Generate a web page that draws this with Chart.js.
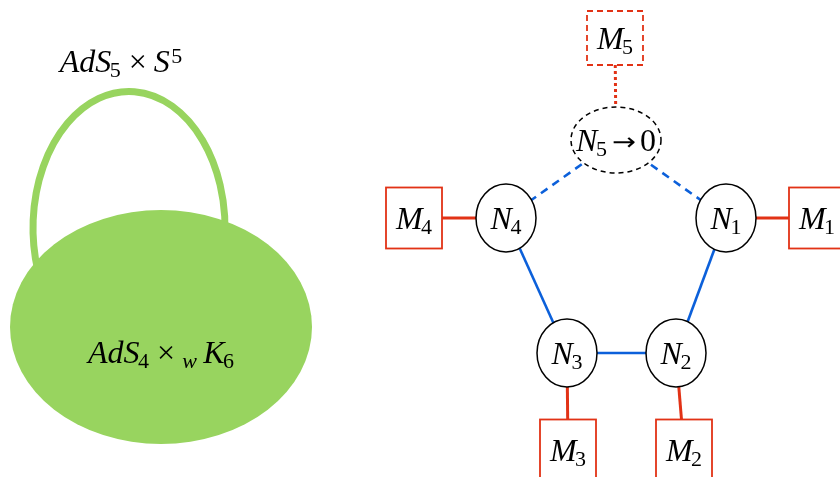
<!DOCTYPE html>
<html>
<head>
<meta charset="utf-8">
<script src="https://cdn.jsdelivr.net/npm/chart.js@4.4.1/dist/chart.umd.min.js"></script>
<style>
  html, body { margin: 0; padding: 0; background: #fff; }
  #wrap { width: 840px; height: 477px; }
</style>
</head>
<body>
<div id="wrap"><canvas id="diagrama" width="840" height="477"></canvas></div>
<script>
// nodos gauge (circulos) -- coordenadas en unidades del eje
const nodeNames = ['N_1', 'N_2', 'N_3', 'N_4', 'N_5 → 0']
const nodeX = [726, 676, 567, 506, 616]
const nodeY = [218, 353, 353, 218, 140]

// nodos de sabor (cajas)
const flavorNames = ['M_1', 'M_2', 'M_3', 'M_4', 'M_5']
const flavorX = [817, 684, 568, 414, 615]
const flavorY = [218, 450, 450, 218, 38]

// aristas entre nodos gauge: [desde, hasta]
const gaugeEdges = [[3, 2], [2, 1], [1, 0], [0, 4], [4, 3]]
const gaugeDashed = [false, false, false, true, true]

// geometria del lado izquierdo
const blobLabel = 'AdS_4 ×_w K_6'
const loopLabel = 'AdS_5 × S^5'
const blobCenter = [161, 327]
const blobRadius = [151, 117]
const loopCenter = [129, 228]
const loopRadius = [96, 136.5]
const blobLabelPos = [161, 363]
const loopLabelPos = [121, 72]

const BLUE = 'rgb(12, 96, 218)'
const RED = 'rgb(226, 50, 22)'
const GREEN = 'rgb(152, 212, 95)'
const FONT = '"Liberation Serif", "DejaVu Serif", serif'
const SIZE = 32
const SUB = 22
const ARROW_W = 24

const nodeR = [30, 34]
const n5R = [45, 33]
const boxSize = [56, 61]
const box5Size = [56, 54]

// partes de una etiqueta tipo TeX: letras en italica, sub/superindices
const mathParts = (str) => {
    const parts = []
    for (let i = 0; i < str.length; i++) {
        let ch = str[i], level = 0
        if ((ch === '_' || ch === '^') && i + 1 < str.length) {
            level = ch === '_' ? 1 : -1
            i++
            ch = str[i]
        }
        if (ch === ' ') continue
        parts.push({ ch, level })
    }
    return parts
}

const partFont = (p) => {
    if (p.ch === '→') return `24px "DejaVu Sans", sans-serif`
    const italic = /[A-Za-z]/.test(p.ch) ? 'italic ' : ''
    return `${italic}${p.level ? SUB : SIZE}px ${FONT}`
}

const spaceFor = (ch) => ch === '×' ? 0.22 * SIZE : ch === '→' ? 4 : 0

const layoutMath = (ctx, str) => {
    const parts = mathParts(str)
    let x = 0
    parts.forEach((p, i) => {
        ctx.font = partFont(p)
        const sp = p.level ? 0 : spaceFor(p.ch)
        x += sp
        if (p.level === -1) x += 1.5
        if (p.level === 1 && i > 0 && /[A-Z]/.test(parts[i - 1].ch)) x -= 1.5
        p.x = x
        p.w = ctx.measureText(p.ch).width
        p.sx = p.ch === '→' ? ARROW_W / p.w : 1
        x += p.w * p.sx + sp
        if (p.level === 1 && p.ch === 'w') x += 0.2 * SIZE
        if (p.level === 1 && p.ch !== 'w' && i < parts.length - 1) x += 1
    })
    return { parts, width: x }
}

const drawMath = (ctx, str, cx, baseline) => {
    const { parts, width } = layoutMath(ctx, str)
    const x0 = cx - width / 2
    ctx.fillStyle = '#000'
    ctx.textAlign = 'left'
    ctx.textBaseline = 'alphabetic'
    parts.forEach((p) => {
        ctx.font = partFont(p)
        const dy = p.level === 1 ? 5 : p.level === -1 ? -9 : p.ch === '→' ? -1 : 0
        ctx.save()
        ctx.translate(x0 + p.x, baseline + dy)
        ctx.scale(p.sx, 1)
        ctx.fillText(p.ch, 0, 0)
        ctx.restore()
    })
}

const px = (chart, x, y) => [chart.scales.x.getPixelForValue(x), chart.scales.y.getPixelForValue(y)]
const rad = (chart, cx, cy, rx, ry) => [
    Math.abs(chart.scales.x.getPixelForValue(cx + rx) - chart.scales.x.getPixelForValue(cx)),
    Math.abs(chart.scales.y.getPixelForValue(cy + ry) - chart.scales.y.getPixelForValue(cy))
]

const dibujo = {
    id: 'dibujo',
    beforeDatasetsDraw(chart) {
        const ctx = chart.ctx
        ctx.save()
        // lazo AdS5 x S5
        const [lx, ly] = px(chart, loopCenter[0], loopCenter[1])
        const [lrx, lry] = rad(chart, loopCenter[0], loopCenter[1], loopRadius[0], loopRadius[1])
        ctx.beginPath()
        ctx.ellipse(lx, ly, lrx, lry, 0, Math.PI - 0.32, 2 * Math.PI + 0.15)
        ctx.strokeStyle = GREEN
        ctx.lineWidth = 7
        ctx.stroke()
        // region AdS4
        const [bx, by] = px(chart, blobCenter[0], blobCenter[1])
        const [brx, bry] = rad(chart, blobCenter[0], blobCenter[1], blobRadius[0], blobRadius[1])
        ctx.beginPath()
        ctx.ellipse(bx, by, brx, bry, 0, 0, 2 * Math.PI)
        ctx.fillStyle = GREEN
        ctx.fill()
        const [t1x, t1y] = px(chart, blobLabelPos[0], blobLabelPos[1])
        drawMath(ctx, blobLabel, t1x, t1y)
        const [t2x, t2y] = px(chart, loopLabelPos[0], loopLabelPos[1])
        drawMath(ctx, loopLabel, t2x, t2y)
        ctx.restore()
    },
    afterDatasetsDraw(chart) {
        const ctx = chart.ctx
        ctx.save()
        // cajas de sabor
        flavorNames.forEach((name, i) => {
            const [cx, cy] = px(chart, flavorX[i], flavorY[i])
            const size = i === 4 ? box5Size : boxSize
            ctx.fillStyle = '#fff'
            ctx.fillRect(cx - size[0] / 2, cy - size[1] / 2, size[0], size[1])
            ctx.strokeStyle = RED
            ctx.lineWidth = 1.8
            ctx.setLineDash(i === 4 ? [6, 4] : [])
            ctx.strokeRect(cx - size[0] / 2, cy - size[1] / 2, size[0], size[1])
            ctx.setLineDash([])
            drawMath(ctx, name, cx, cy + 10.5)
        })
        // nodos gauge
        nodeNames.forEach((name, i) => {
            const [cx, cy] = px(chart, nodeX[i], nodeY[i])
            const r = i === 4 ? n5R : nodeR
            ctx.beginPath()
            ctx.ellipse(cx, cy, r[0], r[1], 0, 0, 2 * Math.PI)
            ctx.fillStyle = '#fff'
            ctx.fill()
            ctx.strokeStyle = '#000'
            ctx.lineWidth = 1.5
            ctx.setLineDash(i === 4 ? [5, 4] : [])
            ctx.stroke()
            ctx.setLineDash([])
            drawMath(ctx, name, cx, cy + 10.5)
        })
        ctx.restore()
    }
}

const gaugeSets = gaugeEdges.map(([a, b], i) => ({
    data: [{ x: nodeX[a], y: nodeY[a] }, { x: nodeX[b], y: nodeY[b] }],
    showLine: true,
    borderColor: BLUE,
    borderWidth: 2.6,
    borderDash: gaugeDashed[i] ? [8, 6] : [],
    borderCapStyle: 'butt',
    pointRadius: 0
}))

const flavorSets = flavorNames.map((name, i) => ({
    data: [{ x: nodeX[i], y: nodeY[i] }, { x: flavorX[i], y: flavorY[i] }],
    showLine: true,
    borderColor: RED,
    borderWidth: 3,
    borderDash: i === 4 ? [3, 3] : [],
    borderCapStyle: 'butt',
    pointRadius: 0
}))

const config = {
    type: 'scatter',
    data: { datasets: [...gaugeSets, ...flavorSets] },
    options: {
        responsive: false,
        animation: false,
        events: [],
        layout: { padding: 0 },
        scales: {
            x: { type: 'linear', min: 0, max: 840, display: false },
            y: { type: 'linear', min: 0, max: 477, reverse: true, display: false }
        },
        plugins: { legend: { display: false }, tooltip: { enabled: false } }
    },
    plugins: [dibujo]
}

window.diagrama = new Chart(document.getElementById('diagrama'), config)
</script>
</body>
</html>
